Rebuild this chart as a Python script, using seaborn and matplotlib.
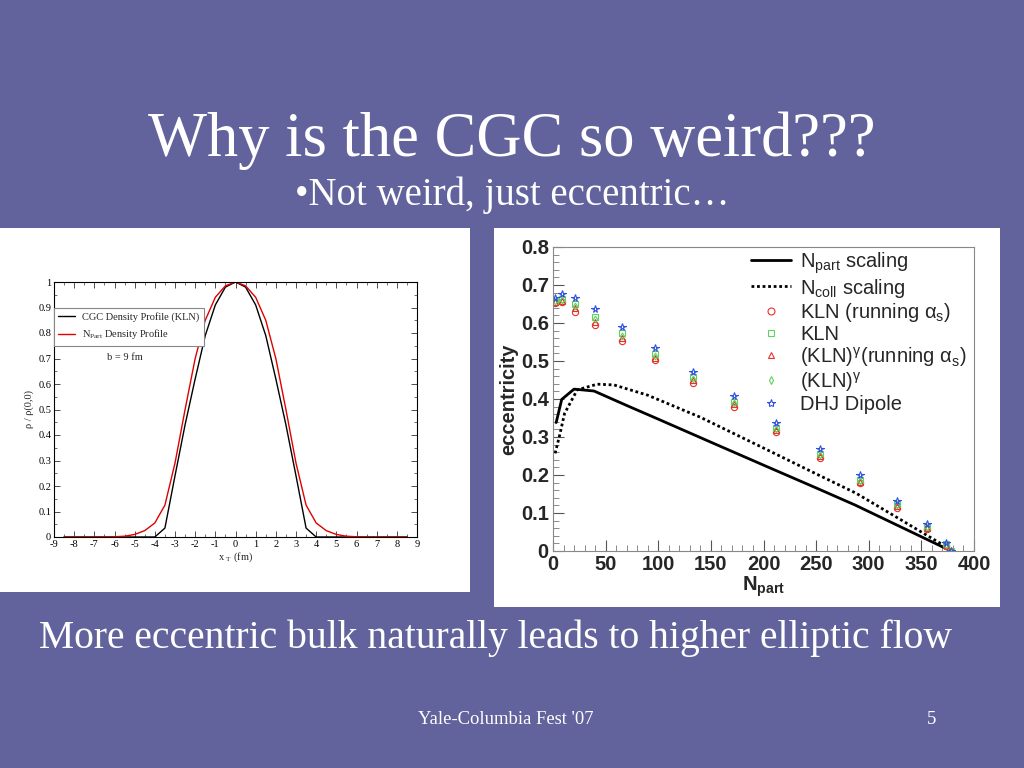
import matplotlib
matplotlib.use("Agg")
import matplotlib.pyplot as plt
from matplotlib.patches import Rectangle
from matplotlib.lines import Line2D
from matplotlib.ticker import MultipleLocator
import seaborn as sns
import pandas as pd

# ---- left chart: transverse density profiles (b = 9 fm) ----
x_t = [-8.5, -8, -7.5, -7, -6.5, -6, -5.5, -5, -4.5, -4, -3.5, -3, -2.5, -2, -1.5, -1, -0.5, 0,
       0.5, 1, 1.5, 2, 2.5, 3, 3.5, 4, 4.5, 5, 5.5, 6, 6.5, 7, 7.5, 8, 8.5]
cgc_kln = [0, 0, 0, 0, 0, 0, 0, 0, 0, 0, 0.035, 0.24, 0.44, 0.62, 0.79, 0.91, 0.98, 1.0,
           0.98, 0.91, 0.79, 0.62, 0.44, 0.24, 0.035, 0, 0, 0, 0, 0, 0, 0, 0, 0, 0]
npart_profile = [0, 0, 0, 0, 0, 0.001, 0.003, 0.01, 0.025, 0.055, 0.125, 0.29, 0.50, 0.70, 0.85, 0.94, 0.985, 1.0,
                 0.985, 0.94, 0.85, 0.70, 0.50, 0.29, 0.125, 0.055, 0.025, 0.01, 0.003, 0.001, 0, 0, 0, 0, 0]

# ---- right chart: eccentricity vs N_part ----
npart_line_x = [3, 8.3, 20, 39, 70, 100, 147, 200, 250, 287, 330, 376]
npart_line_y = [0.338, 0.399, 0.426, 0.421, 0.383, 0.347, 0.290, 0.226, 0.166, 0.121, 0.064, 0.003]
ncoll_line_x = [2, 6, 11, 23, 42, 58, 90, 140, 200, 250, 288, 330, 376]
ncoll_line_y = [0.257, 0.301, 0.362, 0.424, 0.439, 0.437, 0.410, 0.352, 0.271, 0.203, 0.152, 0.083, 0.007]

npart_pts = [2, 8.5, 20.5, 40, 65.5, 97, 133, 172, 212, 253.5, 292, 327, 355, 373, 378]
kln_running = [0.653, 0.655, 0.628, 0.595, 0.553, 0.503, 0.443, 0.380, 0.312, 0.245, 0.178, 0.114, 0.059, 0.013, 0.0]
kln = [0.656, 0.662, 0.650, 0.617, 0.573, 0.518, 0.458, 0.393, 0.324, 0.256, 0.188, 0.123, 0.064, 0.018, 0.0]
kln_gamma_running = [0.655, 0.658, 0.640, 0.603, 0.561, 0.508, 0.449, 0.386, 0.318, 0.250, 0.182, 0.118, 0.061, 0.015, 0.0]
kln_gamma = [0.657, 0.660, 0.645, 0.610, 0.567, 0.513, 0.453, 0.389, 0.321, 0.253, 0.185, 0.120, 0.062, 0.016, 0.0]
dhj_dipole = [0.665, 0.676, 0.665, 0.636, 0.590, 0.533, 0.472, 0.407, 0.337, 0.269, 0.199, 0.131, 0.070, 0.022, 0.0]

sns.set_theme(style="ticks")
plt.rcParams['font.family'] = ['Liberation Sans', 'DejaVu Sans']
plt.rcParams['mathtext.fontset'] = 'dejavusans'

slide_bg = '#62639c'
red = '#e8302a'
green = '#5fd35f'
blue = '#3050e0'

fig = plt.figure(figsize=(10.24, 7.68), dpi=100, facecolor=slide_bg)

# white panels behind the two plots
fig.patches.append(Rectangle((0, 0.2292), 0.459, 0.474, transform=fig.transFigure,
                             facecolor='white', edgecolor='none', zorder=-10))
fig.patches.append(Rectangle((0.4824, 0.2096), 0.494, 0.4935, transform=fig.transFigure,
                             facecolor='white', edgecolor='none', zorder=-10))

# slide text
serif = ['Liberation Serif', 'DejaVu Serif']
fig.text(0.5, 1 - 156 / 768, "Why is the CGC so weird???", ha='center', va='baseline',
         color='white', fontsize=45, family=serif)
fig.text(0.5, 1 - 205 / 768, "\u2022Not weird, just eccentric\u2026", ha='center', va='baseline',
         color='white', fontsize=28, family=serif)
fig.text(0.484, 1 - 648 / 768, "More eccentric bulk naturally leads to higher elliptic flow",
         ha='center', va='baseline', color='white', fontsize=28.5, family=serif)
fig.text(506 / 1024, 1 - 724 / 768, "Yale-Columbia Fest '07", ha='center', va='baseline',
         color='white', fontsize=13.4, family=serif)
fig.text(932 / 1024, 1 - 724 / 768, "5", ha='center', va='baseline',
         color='white', fontsize=13.4, family=serif)

# ---- left plot ----
ax1 = fig.add_axes([54 / 1024, 1 - 537 / 768, 363 / 1024, 255 / 768])
ax1.set_facecolor('white')
prof = pd.DataFrame({'x': x_t, 'cgc': cgc_kln, 'npart': npart_profile})
sns.lineplot(data=prof, x='x', y='cgc', ax=ax1, color='black', linewidth=1.0,
             estimator=None, label="CGC Density Profile (KLN)")
sns.lineplot(data=prof, x='x', y='npart', ax=ax1, color='#e00000', linewidth=1.0,
             estimator=None, label=r"N$_{\mathregular{Part}}$ Density Profile")
ax1.set_xlim(-9, 9)
ax1.set_ylim(0, 1)
ax1.xaxis.set_major_locator(MultipleLocator(1))
ax1.xaxis.set_minor_locator(MultipleLocator(0.5))
ax1.yaxis.set_major_locator(MultipleLocator(0.1))
ax1.yaxis.set_minor_locator(MultipleLocator(0.05))
ax1.set_xticklabels([f"{v:g}" for v in ax1.get_xticks()])
ax1.set_yticklabels([f"{v:g}" for v in ax1.get_yticks()])
ax1.tick_params(which='both', direction='in', top=True, right=True, colors='#333333',
                labelsize=7.5, pad=2)
ax1.tick_params(which='major', length=4, width=0.6)
ax1.tick_params(which='minor', length=2, width=0.5)
for lab in ax1.get_xticklabels() + ax1.get_yticklabels():
    lab.set_family(serif)
    lab.set_color('black')
for sp in ax1.spines.values():
    sp.set_color('black')
    sp.set_linewidth(0.8)
ax1.set_xlabel(r"x $_{\mathregular{T}}$ (fm)", family=serif, fontsize=7.5, labelpad=1)
ax1.set_ylabel("\u03c1 / \u03c1(0,0)", family=serif, fontsize=7.5, labelpad=3)
leg1 = ax1.legend(loc='upper left', bbox_to_anchor=(0, 0.898), borderaxespad=0,
                  fancybox=False, edgecolor='#888888', handlelength=1.6, handletextpad=0.7,
                  prop={'family': serif, 'size': 7.5}, framealpha=1)
leg1.get_frame().set_linewidth(0.8)
ax1.text(0.146, 0.705, "b = 9 fm", transform=ax1.transAxes, family=serif, fontsize=7.5,
         va='center')

# ---- right plot ----
ax2 = fig.add_axes([553 / 1024, 1 - 551 / 768, 421 / 1024, 304 / 768])
ax2.set_facecolor('white')
sns.lineplot(x=npart_line_x, y=npart_line_y, ax=ax2, color='black', linewidth=2.0,
             estimator=None)
sns.lineplot(x=ncoll_line_x, y=ncoll_line_y, ax=ax2, color='black', linewidth=2.0,
             linestyle=(0, (1, 1)), estimator=None)

series = [
    (kln_running, 'o', red, 4.5),
    (kln, 's', green, 4.2),
    (kln_gamma_running, '^', red, 4.2),
    (kln_gamma, 'd', green, 3.5),
    (dhj_dipole, '*', blue, 5.5),
]
for vals, mk, col, ms in series:
    sns.lineplot(x=npart_pts, y=vals, ax=ax2, estimator=None, linestyle='none',
                 marker=mk, markersize=ms, markerfacecolor='none',
                 markeredgecolor=col, markeredgewidth=0.8)

ax2.set_xlim(0, 400)
ax2.set_ylim(0, 0.8)
ax2.xaxis.set_major_locator(MultipleLocator(50))
ax2.xaxis.set_minor_locator(MultipleLocator(10))
ax2.yaxis.set_major_locator(MultipleLocator(0.1))
ax2.yaxis.set_minor_locator(MultipleLocator(0.02))
ax2.set_xticklabels([f"{v:g}" for v in ax2.get_xticks()])
ax2.set_yticklabels([f"{v:g}" for v in ax2.get_yticks()])
ax2.tick_params(which='both', direction='in', top=False, right=False, labelsize=14.5, pad=3)
ax2.tick_params(which='major', length=8, width=0.8, color='#555555')
ax2.tick_params(which='minor', length=4, width=0.6, color='#777777')
for lab in ax2.get_xticklabels() + ax2.get_yticklabels():
    lab.set_fontweight('bold')
for sp in ax2.spines.values():
    sp.set_color('#888888')
    sp.set_linewidth(0.8)
ax2.set_xlabel(r"N$_{\mathregular{part}}$", fontsize=14.5, fontweight='bold', labelpad=0)
ax2.set_ylabel("eccentricity", fontsize=14.5, fontweight='bold', labelpad=2)

handles = [
    Line2D([], [], color='black', lw=2),
    Line2D([], [], color='black', lw=2, linestyle=(0, (1, 1))),
    Line2D([], [], ls='none', marker='o', ms=5, mfc='none', mec=red, mew=0.8),
    Line2D([], [], ls='none', marker='s', ms=4.6, mfc='none', mec=green, mew=0.8),
    Line2D([], [], ls='none', marker='^', ms=4.6, mfc='none', mec=red, mew=0.8),
    Line2D([], [], ls='none', marker='d', ms=4, mfc='none', mec=green, mew=0.8),
    Line2D([], [], ls='none', marker='*', ms=6, mfc='none', mec=blue, mew=0.8),
]
labels = [
    r"N$_{\mathregular{part}}$ scaling",
    r"N$_{\mathregular{coll}}$ scaling",
    "KLN (running \u03b1$_{\\mathregular{s}}$)",
    "KLN",
    "(KLN)$^{\\mathregular{\u03b3}}$(running \u03b1$_{\\mathregular{s}}$)",
    "(KLN)$^{\\mathregular{\u03b3}}$",
    "DHJ Dipole",
]
ax2.legend(handles, labels, loc='upper left', bbox_to_anchor=(0.47, 0.99), borderaxespad=0,
           borderpad=0, frameon=False, fontsize=14.5, handlelength=2.0, handletextpad=0.45,
           labelspacing=0.05)

fig.savefig("out.png", dpi=100, facecolor=slide_bg)
